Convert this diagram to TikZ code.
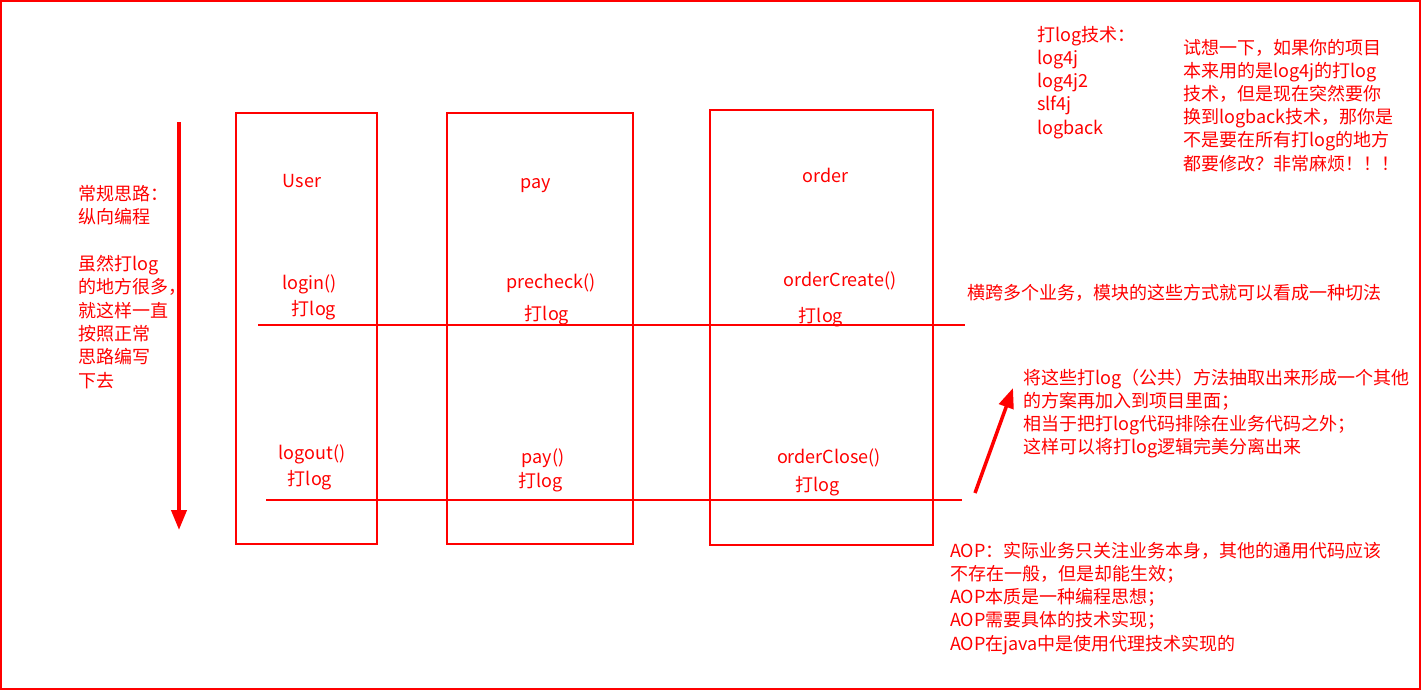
\documentclass[tikz,border=0pt]{standalone}
\usepackage{fontspec}
\setmainfont{Noto Sans CJK SC}
\usetikzlibrary{arrows.meta}
\colorlet{inkRed}{red}

\begin{document}
\begin{tikzpicture}[
  x=1pt,
  y=-1pt,
  every node/.style={
    inner sep=0pt,
    text=inkRed,
    font=\fontsize{18pt}{23.4pt}\selectfont,
  },
  module box/.style={
    draw=inkRed,
    line width=2pt,
  },
  box label/.style={
    anchor=base,
  },
  note line/.style={
    anchor=base west,
  },
  cut line/.style={
    draw=inkRed,
    line width=2pt,
  },
  flow arrow/.style={
    draw=inkRed,
    line width=#1,
    -{Triangle[length=20pt,width=15pt]},
  }
]
\useasboundingbox (0,0) rectangle (1422,691);
\draw[inkRed,line width=2.5pt] (1,1) rectangle (1420,689);
% modules
\node[module box,minimum width=141pt,minimum height=431pt] (user) at (306.5,328.5) {};
\node[module box,minimum width=186pt,minimum height=431pt] (pay) at (540,328.5) {};
\node[module box,minimum width=223pt,minimum height=435pt] (order) at (821.5,327.5) {};
\foreach \nm/\px/\py/\txt in {
  userTitle/302/187/User, userLogin/309.5/289/login(), userLog1/314/315/打log,
  userLogout/312/459/logout(), userLog2/310/485/打log,
  payTitle/535.5/188/pay, payCheck/551/288/precheck(), payLog1/547/320/打log,
  payPay/543/463/pay(), payLog2/540.5/487/打log,
  orderTitle/825.5/182/order, orderCreate/840/286/orderCreate(), orderLog1/821/322/打log,
  orderClose/829/463/orderClose(), orderLog2/817.5/491/打log}
  \node[box label] (\nm) at (\px,\py) {\txt};
% cuts
\coordinate (cut1w) at (258,325);
\coordinate (cut1e) at (965,325);
\coordinate (cut2w) at (266,500);
\coordinate (cut2e) at (962,500);
\draw[cut line] (cut1w) -- (cut1e);
\draw[cut line] (cut2w) -- (cut2e);
% arrows
\coordinate (downS) at (179,122);
\coordinate (downE) at (179,530);
\draw[flow arrow=4pt] (downS) -- (downE);
\coordinate (upS) at (975,493);
\coordinate (upE) at (1013,388);
\draw[flow arrow=3.5pt] (upS) -- (upE);
% notes
\foreach \i/\t in {1/常规思路：,2/纵向编程,4/虽然打log,5/的地方很多，,
  6/就这样一直,7/按照正常,8/思路编写,9/下去}
  \node[note line] (left\i) at (78,{200+23.4*(\i-1)}) {\t};
\foreach \i/\t in {1/打log技术：,2/log4j,3/log4j2,4/slf4j,5/logback}
  \node[note line] (tech\i) at (1037,{41+23.3*(\i-1)}) {\t};
\foreach \i/\t in {1/试想一下，如果你的项目,2/本来用的是log4j的打log,
  3/技术，但是现在突然要你,4/换到logback技术，那你是,
  5/不是要在所有打log的地方,6/都要修改？非常麻烦！！！}
  \node[note line] (ask\i) at (1183,{54+23.2*(\i-1)}) {\t};
\node[note line] (cross) at (967,299) {横跨多个业务，模块的这些方式就可以看成一种切法};
\foreach \i/\t in {1/将这些打log（公共）方法抽取出来形成一个其他,
  2/的方案再加入到项目里面；,3/相当于把打log代码排除在业务代码之外；,
  4/这样可以将打log逻辑完美分离出来}
  \node[note line] (pull\i) at (1023,{384+23.3*(\i-1)}) {\t};
\foreach \i/\t in {1/AOP：实际业务只关注业务本身，其他的通用代码应该,
  2/不存在一般，但是却能生效；,3/AOP本质是一种编程思想；,
  4/AOP需要具体的技术实现；,5/AOP在java中是使用代理技术实现的}
  \node[note line] (aop\i) at (950,{557+23.3*(\i-1)}) {\t};
\end{tikzpicture}
\end{document}
